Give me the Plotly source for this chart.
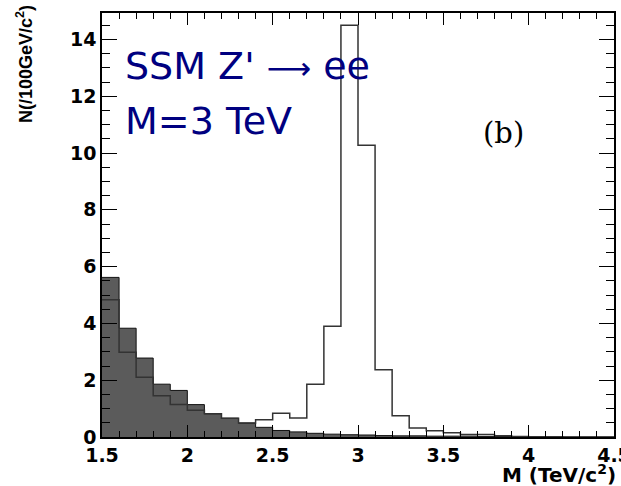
import plotly.graph_objects as go

# Invariant-mass bins (lower edges, TeV/c^2), 100 GeV wide
bin_low = [1.5, 1.6, 1.7, 1.8, 1.9, 2.0, 2.1, 2.2, 2.3, 2.4,
           2.5, 2.6, 2.7, 2.8, 2.9, 3.0, 3.1, 3.2, 3.3, 3.4,
           3.5, 3.6, 3.7, 3.8, 3.9, 4.0, 4.1, 4.2, 4.3, 4.4]
bin_high_edge = 4.5

# Drell-Yan background (filled histogram)
background = [5.62, 3.83, 2.78, 1.86, 1.64, 1.14, 0.82, 0.66, 0.49, 0.34,
              0.23, 0.18, 0.13, 0.10, 0.08, 0.07, 0.05, 0.04, 0.04, 0.03,
              0.03, 0.03, 0.02, 0.02, 0.01, 0.01, 0.01, 0.0, 0.0, 0.0]

# SSM Z' -> ee signal, M = 3 TeV (open histogram)
signal = [4.83, 2.98, 2.10, 1.45, 1.14, 0.94, 0.82, 0.66, 0.49, 0.61,
          0.84, 0.67, 1.86, 3.90, 14.5, 10.27, 2.37, 0.75, 0.32, 0.22,
          0.15, 0.09, 0.09, 0.04, 0.02, 0.01, 0.01, 0.0, 0.0, 0.0]

x_ticks = [1.5, 2.0, 2.5, 3.0, 3.5, 4.0, 4.5]
x_tick_text = ["1.5", "2", "2.5", "3", "3.5", "4", "4.5"]
y_ticks = [0, 2, 4, 6, 8, 10, 12, 14]
y_tick_text = ["0", "2", "4", "6", "8", "10", "12", "14"]


def step_points(values):
    xs = bin_low + [bin_high_edge]
    ys = values + [values[-1]]
    return xs, ys


fig = go.Figure()

bx, by = step_points(background)
fig.add_trace(go.Scatter(
    x=bx, y=by, mode="lines", line_shape="hv",
    line=dict(color="#111111", width=1),
    fill="tozeroy", fillcolor="#5b5b5b",
    hoverinfo="skip", showlegend=False,
))

sx, sy = step_points(signal)
fig.add_trace(go.Scatter(
    x=sx, y=sy, mode="lines", line_shape="hv",
    line=dict(color="#333333", width=1.5),
    hoverinfo="skip", showlegend=False,
))

tick_font = dict(family="DejaVu Sans", size=19, color="black", weight="bold")

fig.update_xaxes(
    range=[1.5, 4.5], tickvals=x_ticks, ticktext=x_tick_text,
    ticks="inside", ticklen=12, tickwidth=1.2, tickcolor="black",
    minor=dict(dtick=0.1, ticks="inside", ticklen=6, tickwidth=1.2,
               tickcolor="black"),
    showline=True, linecolor="black", linewidth=1.5, mirror="ticks",
    showgrid=False, zeroline=False, tickfont=tick_font,
    ticklabeloverflow="allow", automargin=False,
)
fig.update_yaxes(
    range=[0, 14.93], tickvals=y_ticks, ticktext=y_tick_text,
    ticks="inside", ticklen=15, tickwidth=1.2, tickcolor="black",
    minor=dict(dtick=0.5, ticks="inside", ticklen=8, tickwidth=1.2,
               tickcolor="black"),
    showline=True, linecolor="black", linewidth=1.5, mirror="ticks",
    showgrid=False, zeroline=False, tickfont=tick_font, automargin=False,
)

label_font = dict(family="DejaVu Sans", size=38, color="#000080")

fig.update_layout(
    width=621, height=486,
    margin=dict(l=102, r=7, t=13, b=49),
    paper_bgcolor="white", plot_bgcolor="white",
    annotations=[
        dict(text="M (TeV/c<sup>2</sup>)", xref="paper", yref="paper",
             x=1.008, y=-0.088, xanchor="right", yanchor="middle",
             showarrow=False,
             font=dict(family="DejaVu Sans", size=20, color="black",
                       weight="bold")),
        dict(text="N(/100GeV/c<sup>2</sup>)", xref="paper", yref="paper",
             x=-0.15, y=0.88, xanchor="center", yanchor="middle",
             textangle=-90, showarrow=False,
             font=dict(family="Liberation Sans, Arial, sans-serif", size=18,
                       color="black", weight="bold")),
        dict(text="SSM Z' <span style=\"font-size:31px\">\u27f6</span> ee",
             xref="paper", yref="paper",
             x=0.041, y=0.8745, xanchor="left", yanchor="middle",
             showarrow=False, font=label_font),
        dict(text="M=3 TeV", xref="paper", yref="paper",
             x=0.041, y=0.745, xanchor="left", yanchor="middle",
             showarrow=False, font=label_font),
        dict(text="(b)", xref="paper", yref="paper",
             x=0.785, y=0.717, xanchor="center", yanchor="middle",
             showarrow=False,
             font=dict(family="DejaVu Serif", size=29, color="black")),
    ],
)

fig.write_html("out.html")
